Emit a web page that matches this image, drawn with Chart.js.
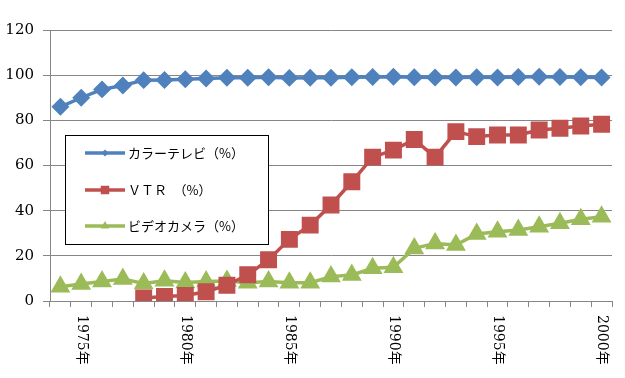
<!DOCTYPE html>
<html>
<head>
<meta charset="utf-8">
<script src="https://cdn.jsdelivr.net/npm/chart.js@4.4.0/dist/chart.umd.min.js"></script>
<style>
  html, body { margin: 0; padding: 0; background: #fff; }
  #wrap { width: 625px; height: 378px; }
</style>
</head>
<body>
<div id="wrap"><canvas id="chart"></canvas></div>
<script>
// 普及率データ（1974〜2000年）
const years = ['1974年','1975年','1976年','1977年','1978年','1979年','1980年','1981年','1982年',
  '1983年','1984年','1985年','1986年','1987年','1988年','1989年','1990年','1991年','1992年',
  '1993年','1994年','1995年','1996年','1997年','1998年','1999年','2000年'];
const shownYears = ['1975年','1980年','1985年','1990年','1995年','2000年'];

const colorTv = [86.0, 90.0, 93.7, 95.4, 97.8, 97.9, 98.2, 98.5, 98.9, 98.9, 99.1, 98.8, 98.9, 98.9,
  99.1, 99.2, 99.3, 99.1, 99.0, 99.0, 99.1, 99.0, 99.2, 99.3, 99.2, 99.1, 99.0];
const vtr = [null, null, null, null, 1.3, 2.0, 2.4, 4.1, 7.0, 11.6, 18.3, 27.3, 33.6, 42.5,
  52.8, 63.7, 66.8, 71.5, 63.7, 75.0, 72.8, 73.5, 73.5, 75.7, 76.5, 77.5, 78.3];
const videoCamera = [6.3, 7.5, 8.6, 9.7, 7.8, 9.0, 8.2, 8.6, 8.9, 8.1, 8.6, 8.1, 8.1, 10.8,
  11.5, 14.5, 14.9, 23.3, 25.5, 24.8, 29.7, 30.7, 31.4, 32.9, 34.4, 36.2, 37.3];

const yTicks = { min: 0, max: 120, step: 20 };

// x軸ラベル（縦書き・時計回り）と凡例を描く
const extras = {
  id: 'extras',
  afterDraw(chart) {
    const ctx = chart.ctx;
    const x = chart.scales.x;
    ctx.save();
    ctx.fillStyle = '#000';
    ctx.font = '14px "DejaVu Serif", "Noto Sans CJK JP"';
    ctx.textAlign = 'left';
    ctx.textBaseline = 'middle';
    years.forEach((y, i) => {
      if (!shownYears.includes(y)) return;
      ctx.save();
      ctx.translate(x.getPixelForValue(i), 315);
      ctx.rotate(Math.PI / 2);
      ctx.fillText(y, 0, 0);
      ctx.restore();
    });

    // 凡例
    ctx.fillStyle = '#fff';
    ctx.fillRect(65.5, 135.5, 203, 109);
    ctx.strokeStyle = '#000';
    ctx.lineWidth = 1;
    ctx.strokeRect(65.5, 135.5, 203, 109);
    const rows = [153, 190, 226];
    chart.data.datasets.forEach((ds, i) => {
      const yy = rows[i];
      ctx.strokeStyle = ds.borderColor;
      ctx.fillStyle = ds.borderColor;
      ctx.lineWidth = 3.5;
      ctx.beginPath();
      ctx.moveTo(85, yy);
      ctx.lineTo(125, yy);
      ctx.stroke();
      Chart.helpers.drawPoint(ctx, { pointStyle: ds.pointStyle, radius: ds.legendRadius, rotation: 0, borderWidth: 0 }, 105, yy);
      ctx.fillStyle = '#000';
      ctx.font = '13px "Noto Sans CJK JP"';
      ctx.textAlign = 'left';
      ctx.textBaseline = 'middle';
      ctx.fillText(ds.label, 128, yy);
    });
    ctx.restore();
  }
};

new Chart(document.getElementById('chart'), {
  type: 'line',
  data: {
    labels: years,
    datasets: [
      { label: 'カラーテレビ（%）', data: colorTv, borderColor: '#4F81BD', backgroundColor: '#4F81BD',
        pointStyle: 'rectRot', pointRadius: 6.5, legendRadius: 3.5, borderWidth: 3.5 },
      { label: 'ＶＴＲ　（%）', data: vtr, borderColor: '#C0504D', backgroundColor: '#C0504D',
        pointStyle: 'rect', pointRadius: 9.5, legendRadius: 6, borderWidth: 3.5 },
      { label: 'ビデオカメラ（%）', data: videoCamera, borderColor: '#9BBB59', backgroundColor: '#9BBB59',
        pointStyle: 'triangle', pointRadius: 8, legendRadius: 5, borderWidth: 3.5 }
    ]
  },
  options: {
    responsive: true,
    maintainAspectRatio: false,
    animation: false,
    layout: { padding: { top: 30, right: 13, left: 0, bottom: 0 } },
    plugins: { legend: { display: false }, tooltip: { enabled: false } },
    elements: { line: { tension: 0 }, point: { borderWidth: 0, hoverRadius: 0 } },
    scales: {
      x: {
        offset: true,
        grid: { display: true, drawOnChartArea: false, drawTicks: true, tickLength: 6, color: '#868686', offset: true },
        border: { color: '#868686' },
        ticks: { display: false },
        afterFit: s => { s.height = 77; }
      },
      y: {
        min: yTicks.min,
        max: yTicks.max,
        ticks: { stepSize: yTicks.step, color: '#000', padding: 9, font: { family: '"DejaVu Serif"', size: 15 } },
        grid: { color: '#868686', tickLength: 7 },
        border: { color: '#868686' },
        afterFit: s => { s.width = 50; }
      }
    }
  },
  plugins: [extras]
});
</script>
</body>
</html>
